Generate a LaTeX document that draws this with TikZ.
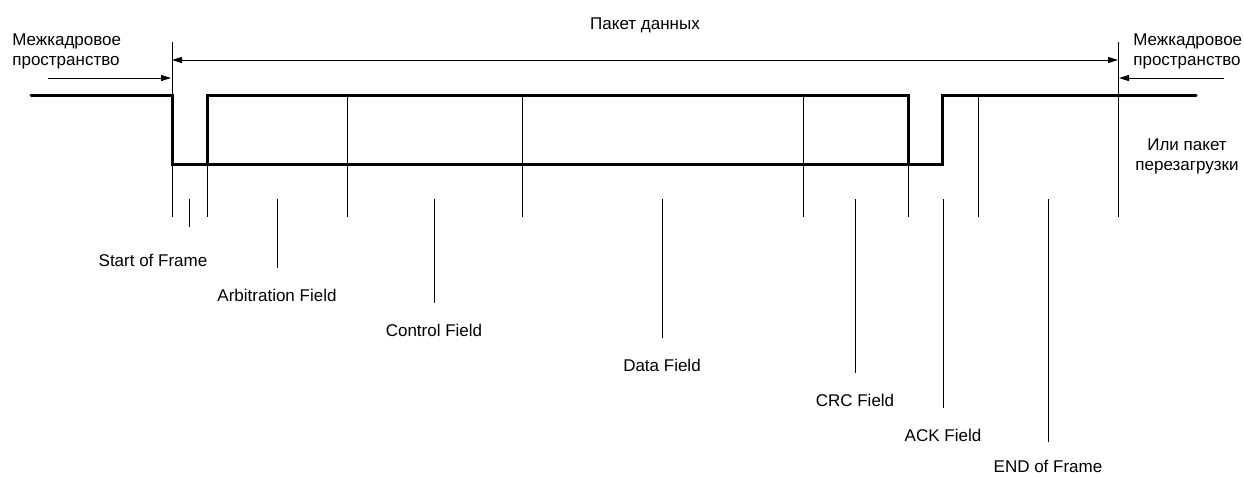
\documentclass[tikz,border=0pt]{standalone}
\usepackage{fontspec}
\setmainfont{Liberation Sans}
\usetikzlibrary{arrows.meta}

\begin{document}
\begin{tikzpicture}[
    x=0.6pt, y=-0.6pt,
    >={Triangle[length=6pt,width=3.6pt]},
    font=\fontsize{10.2}{12}\selectfont,
    signal/.style={line width=1.8pt, line join=miter, line cap=round},
    guide/.style={line width=0.6pt},
    lbl/.style={inner sep=0pt, align=center}
]
    \useasboundingbox (0,0) rectangle (1244,476);

    % frame boundaries and field edges
    \coordinate (fs) at (172,42);
    \coordinate (fe) at (1118,42);
    \coordinate (sofe) at (207,95);
    \coordinate (arbe) at (347,95);
    \coordinate (ctle) at (522,95);
    \coordinate (date) at (803,95);
    \coordinate (crce) at (908,95);
    \coordinate (acke) at (942,95);
    \coordinate (acde) at (978,95);

    % texts at the top
    \node[lbl] (pkt) at (645,25) {Пакет данных};
    \node[lbl, align=left, anchor=west] (gapl) at (12,51) {Межкадровое\\пространство};
    \node[lbl, align=left, anchor=west] (gapr) at (1133,51) {Межкадровое\\пространство};
    \node[lbl] (ovl) at (1187,156) {Или пакет\\перезагрузки};

    % arrows
    \coordinate (pl) at (172,60);
    \coordinate (pr) at (1118,60);
    \draw[guide, <->] (pl) -- (pr);
    \coordinate (gls) at (48,78);
    \coordinate (gle) at (171,78);
    \draw[guide, ->] (gls) -- (gle);
    \coordinate (grs) at (1224,78);
    \coordinate (gre) at (1119,78);
    \draw[guide, ->] (grs) -- (gre);

    % bus levels
    \draw[signal] (31,95) -- (fs |- 0,95) -- (fs |- 0,164) -- (acke |- 0,164) -- (acke) -- (1196,95);
    \draw[signal] (sofe |- 0,164) -- (sofe) -- (crce) -- (crce |- 0,164);

    % field edges
    \draw[guide] (fs) -- (fs |- 0,217);
    \draw[guide] (fe) -- (fe |- 0,217);
    \foreach \e in {sofe, arbe, ctle, date, crce, acde}
        \draw[guide] (\e) -- (\e |- 0,217);

    % field names
    \node[lbl] (sof) at (153,260) {Start of Frame};
    \node[lbl] (arb) at (277,295) {Arbitration Field};
    \node[lbl] (ctl) at (434,330) {Control Field};
    \node[lbl] (dat) at (662,365) {Data Field};
    \node[lbl] (crc) at (855,400) {CRC Field};
    \node[lbl] (ack) at (943,435) {ACK Field};
    \node[lbl] (eof) at (1048,466) {END of Frame};

    \coordinate (soft) at (189,199);
    \draw[guide, shorten >=15.6pt] (soft) -- (soft |- sof.north);
    \draw[guide, shorten >=12pt] (arb.north |- 0,199) -- (arb.north);
    \draw[guide, shorten >=12pt] (ctl.north |- 0,199) -- (ctl.north);
    \draw[guide, shorten >=12pt] (dat.north |- 0,199) -- (dat.north);
    \draw[guide, shorten >=12pt] (crc.north |- 0,199) -- (crc.north);
    \draw[guide, shorten >=12pt] (ack.north |- 0,199) -- (ack.north);
    \draw[guide, shorten >=10.2pt] (eof.north |- 0,199) -- (eof.north);
\end{tikzpicture}
\end{document}
